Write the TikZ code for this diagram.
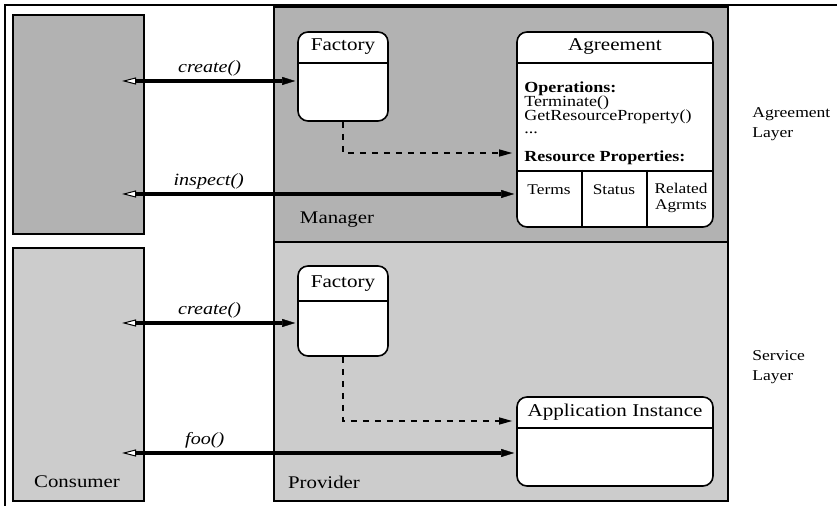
\documentclass[tikz,border=0pt]{standalone}
\usepackage{fontspec}
\setmainfont{Liberation Serif}[FakeStretch=1.17]
\usetikzlibrary{shapes,positioning,arrows.meta,fit,calc}
\definecolor{mgrgray}{gray}{0.70}
\definecolor{svcgray}{gray}{0.80}

\begin{document}
\begin{tikzpicture}[x=0.5pt, y=-0.5pt,
  layerbox/.style={draw, line width=1pt, inner sep=0pt},
  classbox/.style={draw, fill=white, rounded corners=5pt, line width=0.8pt, inner sep=0pt},
  callarrow/.style={line width=2pt,
    {Triangle[fill=white, length=7pt, width=3.5pt, line width=0.5pt]}-{Triangle[length=6.5pt, width=4pt, line width=0.2pt]},
    shorten >=1pt},
  linkarrow/.style={dashed, line width=0.6pt, -{Triangle[length=6.5pt, width=3.5pt]}, shorten >=2pt},
  calllabel/.style={font=\fontsize{8.6}{10}\selectfont\itshape, above, inner sep=1.5pt},
  boxname/.style={font=\fontsize{8.9}{10}\selectfont},
  classname/.style={font=\fontsize{9}{10}\selectfont},
  optext/.style={font=\fontsize{7.7}{9}\selectfont, anchor=base west, inner sep=0pt},
  celltext/.style={font=\fontsize{7.4}{8.4}\selectfont, align=center},
  layername/.style={font=\fontsize{7.5}{10}\selectfont, align=left, anchor=west, inner sep=0pt}]
\useasboundingbox (0,0) rectangle (837,506);
\draw[line width=1pt] (5,506) -- (5,5) -- (837,5);

% consumer, manager and provider
\node[layerbox, fill=mgrgray, fit={(13,15) (144,234)}] (cons1) {};
\node[layerbox, fill=svcgray, fit={(13,248) (144,501)}] (cons2) {};
\node[layerbox, fill=mgrgray, fit={(274,7) (728,242)}] (mgr) {};
\node[layerbox, fill=svcgray, fit={(274,242) (728,501)}] (prov) {};
\node[boxname] (mgrname) at (337,220) {Manager};
\node[boxname] (consname) at (77,482) {Consumer};
\node[boxname] (provname) at (324,482) {Provider};

% agreement layer
\node[classbox, fit={(298,32) (388,121)}] (fac1) {};
\draw[line width=0.8pt] ($(fac1.north west)+(0,32)$) -- ($(fac1.north east)+(0,32)$);
\node[classname] (fac1name) at ($(fac1.north)+(0,15)$) {Factory};

\node[classbox, fit={(517,32) (713,227)}] (agr) {};
\draw[line width=0.8pt] ($(agr.north west)+(0,32)$) -- ($(agr.north east)+(0,32)$);
\draw[line width=0.8pt] ($(agr.south west)+(0,-57)$) -- ($(agr.south east)+(0,-57)$);
\draw[line width=0.8pt] (582,170) -- (582,170 |- agr.south);
\draw[line width=0.8pt] (647,170) -- (647,170 |- agr.south);
\node[classname] (agrname) at ($(agr.north)+(0,15)$) {Agreement};
\node[optext, font=\fontsize{7.7}{9}\selectfont\bfseries] (ops) at (524,93) {Operations:};
\node[optext] (op1) at (524,107) {Terminate()};
\node[optext] (op2) at (524,121) {GetResourceProperty()};
\node[optext] (op3) at (524,134) {...};
\node[optext, font=\fontsize{7.7}{9}\selectfont\bfseries] (props) at (524,162) {Resource Properties:};
\node[celltext] (terms) at (549,190) {Terms};
\node[celltext] (status) at (614,190) {Status};
\node[celltext] (related) at (681,198) {Related\\Agrmts};

\coordinate (c1) at (122,81);
\coordinate (c2) at (122,194);
\draw[callarrow] (c1) -- (c1 -| fac1.west) node[calllabel, pos=0.5] {create()};
\draw[callarrow] (c2) -- (c2 -| agr.west) node[calllabel, pos=0.22] {inspect()};
\draw[linkarrow] (fac1.south) |- (agr.west |- 0,153);

% service layer
\node[classbox, fit={(298,266) (388,356)}] (fac2) {};
\draw[line width=0.8pt] ($(fac2.north west)+(0,36)$) -- ($(fac2.north east)+(0,36)$);
\node[classname] (fac2name) at ($(fac2.north)+(0,18)$) {Factory};

\node[classbox, fit={(517,397) (713,486)}] (app) {};
\draw[line width=0.8pt] ($(app.north west)+(0,32)$) -- ($(app.north east)+(0,32)$);
\node[classname] (appname) at ($(app.north)+(0,16)$) {Application Instance};

\coordinate (c3) at (122,323);
\coordinate (c4) at (122,453);
\draw[callarrow] (c3) -- (c3 -| fac2.west) node[calllabel, pos=0.5] {create()};
\draw[callarrow] (c4) -- (c4 -| app.west) node[calllabel, pos=0.21] {foo()};
\draw[linkarrow] (fac2.south) |- (app.west |- 0,421);

\node[layername] (agrlayer) at (752,124) {Agreement\\Layer};
\node[layername] (svclayer) at (752,367) {Service\\Layer};
\end{tikzpicture}
\end{document}
